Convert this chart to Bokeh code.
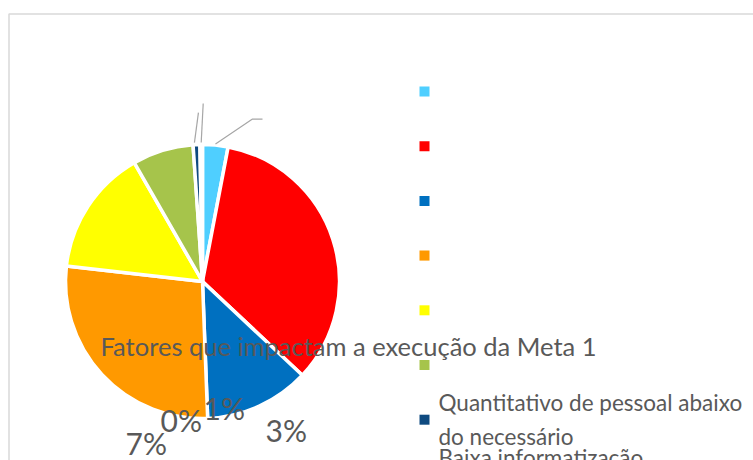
import numpy as np
from bokeh.plotting import figure
from bokeh.models import Range1d, ColumnDataSource
from bokeh.core.properties import value
from bokeh.embed import file_html
from bokeh.resources import INLINE

# ---------------- data ----------------
chart_title = "Fatores que impactam a execução da Meta 1"
categories = ["", "", "", "", "", "",
              "Quantitativo de pessoal abaixo\ndo necessário",
              "Baixa informatização\n"]
shares = [3.0, 34.0, 12.4, 27.4, 14.9, 7.2, 0.8, 0.3]          # percent of total
colors = ["#4FCFFF", "#FF0000", "#0070C0", "#FF9900", "#FFFF00",
          "#A6C44B", "#0E4A80", "#7F7F7F"]
pct_labels = ["0%", "1%", "3%", "7%"]

# ---------------- layout (pixels) ----------------
W, H = 753, 460
FONT = "Lato"
TXT = "#595959"
BASE_FIX = 13  # alphabetic baseline correction

def dx(X):  # picture x -> data x
    return X

def dy(Y):  # picture y -> data y
    return H - Y

p = figure(width=W, height=H, x_range=Range1d(0, W), y_range=Range1d(0, H),
           output_backend="svg", toolbar_location=None, min_border=0,
           x_axis_location=None, y_axis_location=None)
p.grid.visible = False
p.outline_line_color = None
p.background_fill_color = "white"
p.border_fill_color = "white"

# chart area border
p.quad(left=[8.5], right=[W + 20], bottom=[-20], top=[dy(13.5)],
       fill_color=None, line_color="#D9D9D9", line_width=1.5)

# pie
cx, cy, R = dx(202), dy(281), 137
frac = np.array(shares) / np.sum(shares)
cum_end = np.cumsum(frac)
cum_start = cum_end - frac
start_angle = np.pi / 2 - cum_end * 2 * np.pi
end_angle = np.pi / 2 - cum_start * 2 * np.pi
src = ColumnDataSource(dict(start=start_angle, end=end_angle, color=colors))
p.wedge(x=cx, y=cy, radius=R, start_angle="start", end_angle="end",
        direction="anticlock", fill_color="color", line_color="white",
        line_width=3.5, source=src)

# leader lines (from slice mid-angles outward)
mid = np.pi / 2 - (cum_start + frac / 2) * 2 * np.pi
r0 = R + 1
lx0 = cx + r0 * np.cos(mid)
ly0 = cy + r0 * np.sin(mid)
p.line(x=[lx0[0], lx0[0] + 37, lx0[0] + 47], y=[ly0[0], ly0[0] + 25, ly0[0] + 25],
       line_color="#A6A6A6", line_width=1.2)
p.line(x=[lx0[6] - 2, lx0[6] + 2], y=[ly0[6] + 1, ly0[6] + 31],
       line_color="#A6A6A6", line_width=1.2)
p.line(x=[lx0[7], lx0[7] + 2], y=[ly0[7] + 1, ly0[7] + 40],
       line_color="#A6A6A6", line_width=1.2)

# legend
n = len(categories)
leg_y = [dy(91 + i * 54.7) for i in range(n)]
p.scatter(x=[dx(424)] * n, y=leg_y, marker="square", size=10,
          fill_color=colors, line_color=None)
p.text(x=[dx(438)] * n, y=leg_y, text=categories, text_font=value(FONT),
       text_font_size="22.5px", text_color=TXT, text_baseline="middle",
       text_align="left", text_line_height=1.26)

# title (overlaid on plot, as in the reference)
p.text(x=[dx(100)], y=[dy(358 - BASE_FIX)], text=[chart_title], text_font=value(FONT),
       text_font_size="25.5px", text_color=TXT, text_baseline="alphabetic",
       text_align="left")

# data labels
lab_x = [dx(160), dx(203), dx(265), dx(125)]
lab_y = [dy(432 - BASE_FIX), dy(420 - BASE_FIX), dy(442 - BASE_FIX), dy(455 - BASE_FIX)]
p.text(x=lab_x, y=lab_y, text=pct_labels, text_font=value(FONT),
       text_font_size="30px", text_color=TXT, text_baseline="alphabetic",
       text_align="left")

open("out.html", "w").write(file_html(p, INLINE))
